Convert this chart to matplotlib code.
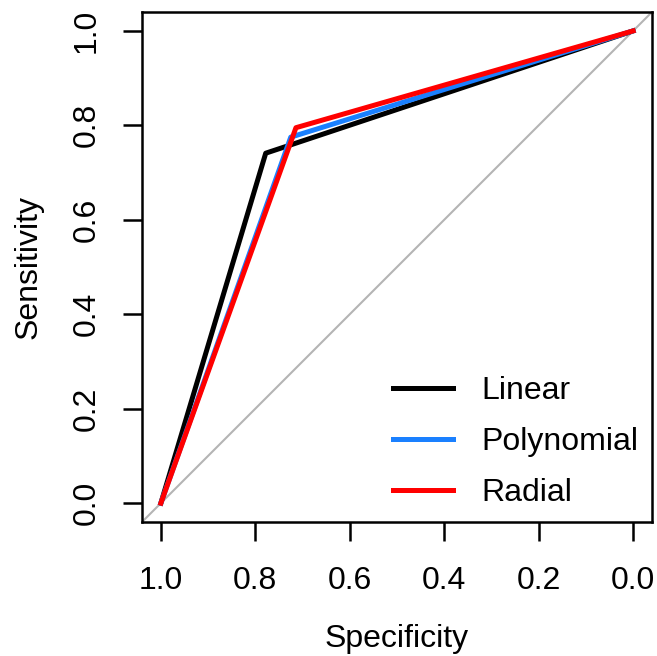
import numpy as np
import matplotlib.pyplot as plt

plt.rcParams['font.family'] = ['Liberation Sans', 'DejaVu Sans']

# ROC curves (specificity, sensitivity)
spec_linear = [1.0, 0.778, 0.0]
sens_linear = [0.0, 0.741, 1.0]
spec_poly = [1.0, 0.725, 0.0]
sens_poly = [0.0, 0.775, 1.0]
spec_radial = [1.0, 0.714, 0.0]
sens_radial = [0.0, 0.795, 1.0]

ticks = [1.0, 0.8, 0.6, 0.4, 0.2, 0.0]
tick_labels = ['1.0', '0.8', '0.6', '0.4', '0.2', '0.0']

fig = plt.figure(figsize=(6.57, 6.56), dpi=100)
ax = fig.add_axes([142/657, 1 - 522/656, 510/657, 510/656])

ax.set_xlim(1.04, -0.04)
ax.set_ylim(-0.04, 1.04)

ax.plot([1.04, -0.04], [-0.04, 1.04], color='#b4b4b4', lw=1.5, zorder=1)
ax.plot(spec_linear, sens_linear, color='black', lw=3.6, label='Linear', zorder=2)
ax.plot(spec_poly, sens_poly, color='#1a80ff', lw=3.6, label='Polynomial', zorder=3)
ax.plot(spec_radial, sens_radial, color='#ff0000', lw=3.6, label='Radial', zorder=4)

ax.set_xticks(ticks)
ax.set_xticklabels(tick_labels)
ax.set_yticks(ticks)
ax.set_yticklabels(tick_labels, rotation=90, va='center')
ax.tick_params(axis='both', length=14, width=1.8, labelsize=23, direction='out')
ax.tick_params(axis='x', pad=18)
ax.tick_params(axis='y', pad=15)
for s in ax.spines.values():
    s.set_linewidth(1.8)

ax.set_xlabel('Specificity', fontsize=23, labelpad=20)
ax.set_ylabel('Sensitivity', fontsize=23, labelpad=20)

leg = ax.legend(loc='lower right', bbox_to_anchor=(1.017, -0.017), frameon=False,
                fontsize=23, handlelength=1.88, handletextpad=0.9,
                labelspacing=0.66, borderaxespad=0.3)
for line in leg.get_lines():
    line.set_linewidth(3.6)

fig.savefig('out.png', dpi=100)
